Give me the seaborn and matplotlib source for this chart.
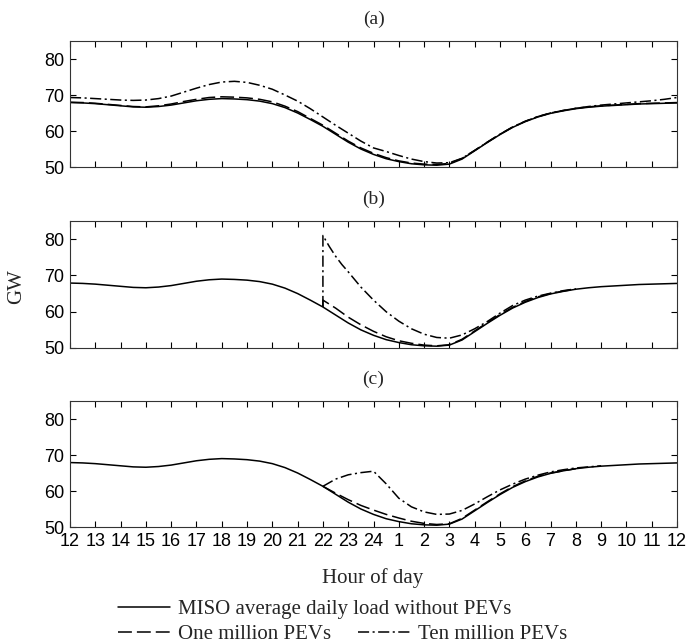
import matplotlib
matplotlib.use("Agg")
import matplotlib.pyplot as plt
from matplotlib.lines import Line2D
import seaborn as sns

# ---------------- data ----------------
HOURS = [12.0, 12.5, 13.0, 13.5, 14.0, 14.5, 15.0, 15.5, 16.0, 16.5, 17.0, 17.5,
         18.0, 18.5, 19.0, 19.5, 20.0, 20.5, 21.0, 21.5, 22.0, 22.5, 23.0, 23.5,
         24.0, 24.5, 25.0, 25.5, 26.0, 26.5, 27.0, 27.5, 28.0, 28.5, 29.0, 29.5,
         30.0, 30.5, 31.0, 31.5, 32.0, 32.5, 33.0, 33.5, 34.0, 34.5, 35.0, 35.5, 36.0]

BASE_LOAD = [67.9, 67.8, 67.6, 67.3, 67.0, 66.7, 66.6, 66.8, 67.2, 67.8, 68.4, 68.8,
             69.0, 68.9, 68.7, 68.3, 67.6, 66.5, 65.0, 63.2, 61.3, 59.1, 56.9, 55.0,
             53.5, 52.3, 51.5, 50.9, 50.6, 50.5, 50.8, 52.2, 54.5, 56.8, 59.0, 61.0,
             62.6, 63.9, 64.9, 65.6, 66.2, 66.6, 66.9, 67.1, 67.3, 67.5, 67.6, 67.7, 67.8]

A_ONE = [68.0, 67.9, 67.7, 67.4, 67.1, 66.8, 66.7, 67.0, 67.5, 68.2, 68.8, 69.3,
         69.5, 69.4, 69.2, 68.8, 68.1, 66.9, 65.4, 63.5, 61.6, 59.4, 57.2, 55.3,
         53.8, 52.6, 51.7, 51.1, 50.8, 50.7, 51.0, 52.4, 54.6, 56.9, 59.1, 61.1,
         62.7, 64.0, 65.0, 65.7, 66.3, 66.7, 67.0, 67.2, 67.4, 67.6, 67.7, 67.8, 67.9]

A_TEN = [69.3, 69.2, 69.0, 68.8, 68.6, 68.5, 68.6, 69.0, 69.7, 70.8, 71.9, 72.9,
         73.6, 73.8, 73.5, 72.7, 71.6, 70.0, 68.3, 66.2, 63.9, 61.6, 59.4, 57.2,
         55.3, 54.3, 53.2, 52.2, 51.5, 51.1, 51.2, 52.4, 54.6, 56.9, 59.1, 61.1,
         62.7, 64.0, 65.0, 65.7, 66.3, 66.8, 67.2, 67.5, 67.8, 68.1, 68.4, 68.8, 69.3]

B_ONE_HOURS = [22.0, 22.0, 22.5, 23.0, 23.5, 24.0, 24.5, 25.0, 25.5, 26.0, 26.5, 27.0,
               27.5, 28.0, 28.5, 29.0, 29.5, 30.0, 30.5, 31.0, 31.5, 32.0]
B_ONE = [61.3, 63.2, 61.0, 58.5, 56.4, 54.6, 53.1, 52.0, 51.3, 50.8, 50.6, 50.9,
         52.4, 54.7, 57.0, 59.2, 61.2, 62.8, 64.1, 65.0, 65.7, 66.2]

B_TEN_HOURS = [22.0, 22.0, 22.25, 22.5, 22.75, 23.0, 23.5, 24.0, 24.5, 25.0, 25.5, 26.0,
               26.5, 27.0, 27.5, 28.0, 28.5, 29.0, 29.5, 30.0, 30.5, 31.0, 31.5, 32.0]
B_TEN = [61.3, 81.0, 78.0, 75.3, 73.0, 71.0, 66.8, 63.2, 60.0, 57.4, 55.3, 53.8,
         52.9, 52.7, 53.6, 55.3, 57.3, 59.6, 61.7, 63.2, 64.3, 65.1, 65.8, 66.3]

C_ONE_HOURS = [22.0, 22.5, 23.0, 23.5, 24.0, 24.5, 25.0, 25.5, 26.0, 26.5, 27.0,
               27.5, 28.0, 28.5, 29.0, 29.5, 30.0, 30.5, 31.0, 32.0]
C_ONE = [61.3, 59.4, 57.6, 56.0, 54.7, 53.5, 52.5, 51.6, 51.0, 50.7, 50.9,
         52.4, 54.7, 57.0, 59.2, 61.2, 62.8, 64.1, 65.0, 66.2]

C_TEN_HOURS = [22.0, 22.5, 23.0, 23.5, 24.0, 24.5, 25.0, 25.5, 26.0, 26.5, 27.0,
               27.5, 28.0, 28.5, 29.0, 29.5, 30.0, 30.5, 31.0, 31.5, 32.0, 33.0]
C_TEN = [61.3, 63.3, 64.5, 65.1, 65.5, 62.0, 58.0, 55.6, 54.2, 53.5, 53.6,
         54.6, 56.4, 58.4, 60.3, 61.9, 63.3, 64.4, 65.3, 65.9, 66.4, 67.0]

X_TICKS = list(range(12, 37))
X_TICK_LABELS = ["12", "13", "14", "15", "16", "17", "18", "19", "20", "21", "22", "23",
                 "24", "1", "2", "3", "4", "5", "6", "7", "8", "9", "10", "11", "12"]
Y_TICKS = [50, 60, 70, 80]
PANEL_TITLES = ["(a)", "(b)", "(c)"]
LEGEND_LABELS = ["MISO average daily load without PEVs", "One million PEVs", "Ten million PEVs"]

# ---------------- style ----------------
sns.set_theme(style="ticks")
plt.rcParams["font.family"] = ["Liberation Sans", "DejaVu Sans"]
plt.rcParams["lines.scale_dashes"] = False
SERIF = ["Liberation Serif", "DejaVu Serif"]

LW = 1.1
DASHED = (0, (10, 3.6))
DASHDOT = (0, (8, 2.5, 1.5, 2.5))

fig = plt.figure(figsize=(6.89, 6.43), dpi=100)
L, W = 70 / 689, 607 / 689
positions = [(167, 126), (348, 127), (527, 126)]

panels = [
    (HOURS, A_ONE, HOURS, A_TEN),
    (B_ONE_HOURS, B_ONE, B_TEN_HOURS, B_TEN),
    (C_ONE_HOURS, C_ONE, C_TEN_HOURS, C_TEN),
]

for i, ((bot, h), (x1, y1, x10, y10)) in enumerate(zip(positions, panels)):
    ax = fig.add_axes([L, 1 - bot / 643, W, h / 643])
    sns.lineplot(x=HOURS, y=BASE_LOAD, ax=ax, color="black", lw=LW,
                 estimator=None, sort=False)
    sns.lineplot(x=x1, y=y1, ax=ax, color="black", lw=LW, linestyle=DASHED,
                 estimator=None, sort=False)
    sns.lineplot(x=x10, y=y10, ax=ax, color="black", lw=LW, linestyle=DASHDOT,
                 estimator=None, sort=False)
    ax.set_xlim(12, 36)
    ax.set_ylim(50, 85)
    ax.set_xticks(X_TICKS)
    ax.set_yticks(Y_TICKS)
    ax.set_yticklabels([str(v) for v in Y_TICKS], fontsize=13)
    if i == 2:
        ax.set_xticklabels(X_TICK_LABELS, fontsize=13)
    else:
        ax.set_xticklabels([])
    ax.tick_params(direction="in", length=4.5, width=0.8, top=True, right=True,
                   pad=4, colors="black", labelcolor="black")
    for s in ax.spines.values():
        s.set_visible(True)
        s.set_color("#333333")
        s.set_linewidth(0.8)
    ax.set_xlabel("")
    ax.set_ylabel("")
    ax.set_title(PANEL_TITLES[i], family=SERIF, fontsize=14, pad=12)

fig.text(17 / 689, 1 - 287 / 643, "GW", rotation=90, family=SERIF, fontsize=15,
         ha="center", va="center")
fig.text(373 / 689, 1 - 578 / 643, "Hour of day", family=SERIF, fontsize=15,
         ha="center", va="center")

h_solid = Line2D([], [], color="black", lw=LW)
h_dash = Line2D([], [], color="black", lw=LW, linestyle=DASHED)
h_dd = Line2D([], [], color="black", lw=LW, linestyle=DASHDOT)

common = dict(frameon=False, borderpad=0, borderaxespad=0, handlelength=2.5,
              handletextpad=0.4, prop={"family": SERIF, "size": 15}, loc="center left")
fig.legend([h_solid], [LEGEND_LABELS[0]], bbox_to_anchor=(118 / 689, 1 - 609 / 643), **common)
fig.legend([h_dash], [LEGEND_LABELS[1]], bbox_to_anchor=(118 / 689, 1 - 634 / 643), **common)
fig.legend([h_dd], [LEGEND_LABELS[2]], bbox_to_anchor=(358 / 689, 1 - 634 / 643), **common)

fig.savefig("out.png", dpi=100, facecolor="white")
